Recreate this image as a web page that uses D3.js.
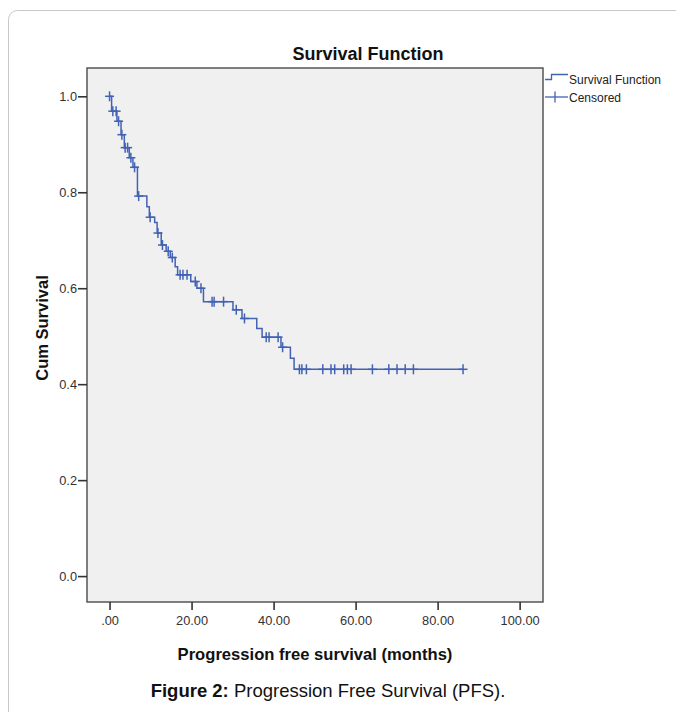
<!DOCTYPE html>
<html>
<head>
<meta charset="utf-8">
<script src="https://cdn.jsdelivr.net/npm/d3@7"></script>
<style>
  html, body { margin: 0; padding: 0; background: #ffffff; }
  svg { display: block; font-family: "Liberation Sans", Arial, sans-serif; }
</style>
</head>
<body>
<svg id="chart" width="676" height="712"></svg>
<script>
// ---- data ----
const eventTimes    = [0.5, 1.8, 2.8, 3.6, 4.8, 5.7, 6.8, 9.1, 9.7, 11.0, 11.6, 12.6, 13.8, 14.8, 16.0, 16.6, 19.8, 21.3, 22.9, 30.1, 32.3, 35.9, 37.2, 41.8, 44.1, 45.0];
const survivalAfter = [0.969, 0.948, 0.920, 0.893, 0.872, 0.852, 0.792, 0.770, 0.748, 0.737, 0.715, 0.690, 0.677, 0.664, 0.645, 0.628, 0.614, 0.600, 0.572, 0.555, 0.537, 0.516, 0.498, 0.477, 0.454, 0.431];
const censorTimes   = [0, 0.8, 1.6, 2.2, 3.0, 3.8, 4.4, 5.2, 6.1, 7.1, 9.9, 11.8, 12.9, 14.3, 15.3, 17.2, 17.9, 18.9, 20.9, 22.3, 25.0, 25.5, 27.8, 30.9, 32.9, 38.2, 38.9, 41.1, 42.2, 46.3, 46.9, 48.0, 52.0, 54.0, 54.9, 57.1, 58.0, 58.9, 64.1, 68.1, 70.1, 72.1, 74.1, 86.2];
const xTicks = [0, 20, 40, 60, 80, 100];
const xTickLabels = [".00", "20.00", "40.00", "60.00", "80.00", "100.00"];
const yTicks = [0, 0.2, 0.4, 0.6, 0.8, 1.0];
const yTickLabels = ["0.0", "0.2", "0.4", "0.6", "0.8", "1.0"];
const legendLabels = ["Survival Function", "Censored"];

// ---- layout ----
const svg = d3.select("#chart");
const box = { left: 87, right: 543, top: 68, bottom: 602 };
const lineColor = "#4262b4";

// outer card
svg.append("rect")
  .attr("x", 8.5).attr("y", 10.5).attr("width", 700).attr("height", 760)
  .attr("rx", 9).attr("ry", 9)
  .attr("fill", "#ffffff").attr("stroke", "#c8c8c8").attr("stroke-width", 1);

const x = d3.scaleLinear().domain([-5.5, 105.7]).range([box.left, box.right]);
const y = d3.scaleLinear().domain([-0.054, 1.059]).range([box.bottom, box.top]);

// plot background
svg.append("rect")
  .attr("x", box.left).attr("y", box.top)
  .attr("width", box.right - box.left).attr("height", box.bottom - box.top)
  .attr("fill", "#f0f0f0").attr("stroke", "#4a4a4a").attr("stroke-width", 1.4);

// axes
const yAxis = svg.append("g")
  .attr("transform", `translate(${box.left},0)`)
  .call(d3.axisLeft(y).tickValues(yTicks).tickFormat((d, i) => yTickLabels[i]).tickSize(9).tickPadding(1));
const xAxis = svg.append("g")
  .attr("transform", `translate(0,${box.bottom})`)
  .call(d3.axisBottom(x).tickValues(xTicks).tickFormat((d, i) => xTickLabels[i]).tickSize(8).tickPadding(6));
[yAxis, xAxis].forEach(g => {
  g.select(".domain").remove();
  g.selectAll(".tick line").attr("stroke", "#333").attr("stroke-width", 1.6);
  g.selectAll(".tick text").attr("fill", "#333").style("font-size", "12.8px")
    .style("font-family", "'Liberation Sans', Arial, sans-serif");
});

// KM step curve
const pts = [[0, 1]].concat(eventTimes.map((t, i) => [t, survivalAfter[i]]));
pts.push([d3.max(censorTimes), survivalAfter[survivalAfter.length - 1]]);
const line = d3.line().x(d => x(d[0])).y(d => y(d[1])).curve(d3.curveStepAfter);
svg.append("path").attr("d", line(pts))
  .attr("fill", "none").attr("stroke", lineColor).attr("stroke-width", 1.5);

// censor marks
const bis = d3.bisector(d => d).right;
function survAt(t) {
  const i = bis(eventTimes, t);
  return i === 0 ? 1 : survivalAfter[i - 1];
}
const cg = svg.append("g").attr("stroke", lineColor).attr("stroke-width", 1.5);
censorTimes.forEach(t => {
  const cx = x(t), cy = y(survAt(t));
  cg.append("line").attr("x1", cx - 4.5).attr("x2", cx + 4.5).attr("y1", cy).attr("y2", cy);
  cg.append("line").attr("x1", cx).attr("x2", cx).attr("y1", cy - 5).attr("y2", cy + 5);
});

// title
svg.append("text").attr("x", 368).attr("y", 60).attr("text-anchor", "middle")
  .style("font-size", "18px").style("font-weight", "bold").attr("fill", "#111")
  .text("Survival Function");

// axis titles
svg.append("text").attr("transform", "translate(48,328) rotate(-90)").attr("text-anchor", "middle")
  .style("font-size", "16.5px").style("font-weight", "bold").attr("fill", "#111")
  .text("Cum Survival");
svg.append("text").attr("x", 315).attr("y", 660).attr("text-anchor", "middle")
  .style("font-size", "16.6px").style("font-weight", "bold").attr("fill", "#111")
  .text("Progression free survival (months)");

// legend
const lg = svg.append("g");
lg.append("path").attr("d", "M545,79.5H551.5V74.5H568")
  .attr("fill", "none").attr("stroke", lineColor).attr("stroke-width", 1.3);
lg.append("line").attr("x1", 545).attr("x2", 568).attr("y1", 97).attr("y2", 97)
  .attr("stroke", lineColor).attr("stroke-width", 1.3);
lg.append("line").attr("x1", 555).attr("x2", 555).attr("y1", 91.5).attr("y2", 102.5)
  .attr("stroke", lineColor).attr("stroke-width", 1.3);
lg.selectAll("text.leg").data(legendLabels).join("text").attr("class", "leg")
  .attr("x", 569).attr("y", (d, i) => 84 + i * 17.5)
  .style("font-size", "12px").attr("fill", "#222").text(d => d);

// caption
const cap = svg.append("text").attr("x", 328).attr("y", 697).attr("text-anchor", "middle")
  .style("font-size", "18.5px").attr("fill", "#111");
cap.append("tspan").style("font-weight", "bold").text("Figure 2:");
cap.append("tspan").text(" Progression Free Survival (PFS).");
</script>
</body>
</html>
